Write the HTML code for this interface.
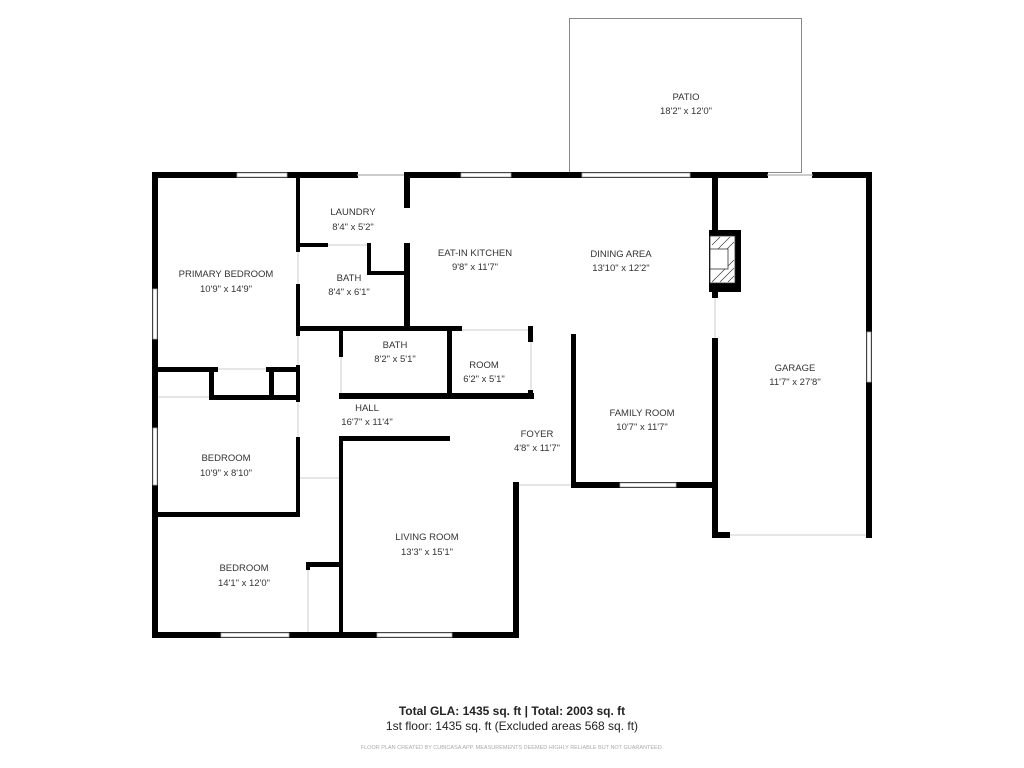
<!DOCTYPE html>
<html><head><meta charset="utf-8"><style>
html,body{margin:0;padding:0;background:#fff;}
svg{display:block}
text{font-family:"Liberation Sans",sans-serif;fill:#333;font-size:9.5px;text-anchor:middle}
.w{fill:#000}
.win{fill:#fff;stroke:#aaa;stroke-width:0.8}
.l{stroke:#ccc;stroke-width:1;fill:none}
</style></head><body>
<svg width="1024" height="768" viewBox="0 0 1024 768" xmlns="http://www.w3.org/2000/svg">
<!-- patio -->
<rect x="569.5" y="18.5" width="232" height="154" fill="none" stroke="#888" stroke-width="1"/>
<!-- outer walls -->
<rect class="w" x="152" y="172" width="206" height="6"/>
<rect class="w" x="404" y="172" width="364" height="6"/>
<rect class="l" x="358" y="174.5" width="46" height="1"/>
<rect class="w" x="812" y="172" width="60" height="6"/>
<rect class="l" x="768" y="174.5" width="44" height="1"/>
<rect class="w" x="866" y="172" width="6" height="366"/>
<rect class="w" x="152" y="172" width="6" height="466"/>
<rect class="w" x="152" y="632" width="367" height="6"/>
<rect class="w" x="513" y="482" width="6" height="156"/>
<line class="l" x1="519" y1="485" x2="571" y2="485"/>
<!-- family room -->
<rect class="w" x="571" y="334" width="5" height="154"/>
<rect class="w" x="571" y="482" width="147" height="6"/>
<!-- garage -->
<rect class="w" x="712" y="172" width="6" height="126"/>
<rect class="w" x="712" y="338" width="6" height="200"/>
<rect class="w" x="712" y="532" width="18" height="6"/>
<line class="l" x1="730" y1="535" x2="866" y2="535"/>
<line class="l" x1="715" y1="298" x2="715" y2="338"/>
<rect class="w" x="709" y="230" width="32" height="62"/>
<rect x="710" y="236" width="25" height="47" fill="#fff" stroke="#333" stroke-width="0.8"/>
<g stroke="#333" stroke-width="0.6">
<line x1="712" y1="245" x2="720" y2="237"/><line x1="712" y1="255" x2="730" y2="237"/>
<line x1="712" y1="282" x2="734" y2="260"/><line x1="720" y1="282" x2="734" y2="268"/><line x1="728" y1="282" x2="734" y2="276"/>
<line x1="726" y1="250" x2="734" y2="242"/>
</g>
<rect x="710" y="249" width="18" height="20" fill="#fff" stroke="#333" stroke-width="0.8"/>
<!-- laundry / bath column -->
<rect class="w" x="296" y="172" width="4" height="80"/>
<rect class="w" x="296" y="284" width="4" height="52"/>
<rect class="w" x="296" y="365" width="4" height="37"/>
<rect class="w" x="296" y="437" width="4" height="80"/>
<rect class="w" x="296" y="243" width="32" height="4"/>
<line class="l" x1="328" y1="245" x2="368" y2="245"/>
<rect class="w" x="367" y="243" width="4" height="32"/>
<rect class="w" x="367" y="271" width="40" height="4"/>
<rect class="w" x="404" y="172" width="6" height="36"/>
<rect class="w" x="404" y="243" width="6" height="88"/>
<rect class="w" x="296" y="326" width="166" height="5"/>
<!-- bath2 / room -->
<rect class="w" x="339" y="326" width="4" height="31"/>
<rect class="w" x="339" y="393" width="195" height="6"/>
<rect class="w" x="447" y="326" width="5" height="73"/>
<rect class="w" x="528" y="326" width="5" height="16"/>
<rect class="w" x="528" y="390" width="5" height="9"/>
<line class="l" x1="341" y1="357" x2="341" y2="393"/>
<line class="l" x1="531" y1="342" x2="531" y2="390"/>
<line class="l" x1="462" y1="330" x2="528" y2="330"/>
<!-- primary closet -->
<rect class="w" x="152" y="367" width="66" height="5"/>
<rect class="w" x="266" y="367" width="34" height="5"/>
<line class="l" x1="218" y1="369" x2="266" y2="369"/>
<rect class="w" x="209" y="367" width="5" height="33"/>
<rect class="w" x="269" y="367" width="5" height="33"/>
<rect class="w" x="209" y="395" width="91" height="5"/>
<line class="l" x1="158" y1="397" x2="209" y2="397"/>
<!-- bedroom -->
<rect class="w" x="152" y="512" width="148" height="5"/>
<line class="l" x1="300" y1="478" x2="339" y2="478"/>
<line class="l" x1="298" y1="252" x2="298" y2="284"/>
<line class="l" x1="298" y1="336" x2="298" y2="365"/>
<line class="l" x1="298" y1="402" x2="298" y2="437"/>
<!-- living -->
<rect class="w" x="339" y="436" width="111" height="5"/>
<rect class="w" x="339" y="436" width="4" height="202"/>
<rect class="w" x="306" y="562" width="37" height="5"/>
<rect class="w" x="306" y="562" width="4" height="8"/>
<line class="l" x1="308" y1="570" x2="308" y2="632"/>
<!-- windows -->
<rect class="win" x="237" y="173" width="50" height="4"/>
<rect class="win" x="461" y="173" width="50" height="4"/>
<rect class="win" x="582" y="173" width="108" height="4"/>
<rect class="win" x="153" y="289" width="4" height="50"/>
<rect class="win" x="153" y="428" width="4" height="57"/>
<rect class="win" x="867" y="332" width="4" height="50"/>
<rect class="win" x="221" y="633" width="68" height="4"/>
<rect class="win" x="377" y="633" width="75" height="4"/>
<rect class="win" x="620" y="483" width="56" height="4"/>
<!-- labels -->
<text x="686" y="100">PATIO</text><text x="686" y="114">18'2" x 12'0"</text>
<text x="353" y="215">LAUNDRY</text><text x="353" y="230">8'4" x 5'2"</text>
<text x="226" y="277">PRIMARY BEDROOM</text><text x="226" y="292">10'9" x 14'9"</text>
<text x="349" y="281">BATH</text><text x="349" y="295">8'4" x 6'1"</text>
<text x="475" y="256">EAT-IN KITCHEN</text><text x="475" y="270">9'8" x 11'7"</text>
<text x="621" y="257">DINING AREA</text><text x="621" y="271">13'10" x 12'2"</text>
<text x="395" y="348">BATH</text><text x="395" y="362">8'2" x 5'1"</text>
<text x="484" y="368">ROOM</text><text x="484" y="382">6'2" x 5'1"</text>
<text x="367" y="411">HALL</text><text x="367" y="425">16'7" x 11'4"</text>
<text x="537" y="437">FOYER</text><text x="537" y="451">4'8" x 11'7"</text>
<text x="642" y="416">FAMILY ROOM</text><text x="642" y="430">10'7" x 11'7"</text>
<text x="795" y="371">GARAGE</text><text x="795" y="385">11'7" x 27'8"</text>
<text x="226" y="461">BEDROOM</text><text x="226" y="476">10'9" x 8'10"</text>
<text x="244" y="571">BEDROOM</text><text x="244" y="586">14'1" x 12'0"</text>
<text x="427" y="540">LIVING ROOM</text><text x="427" y="555">13'3" x 15'1"</text>
<text x="512" y="715" style="font-size:12px;font-weight:bold;fill:#222">Total GLA: 1435 sq. ft | Total: 2003 sq. ft</text>
<text x="512" y="730" style="font-size:12px;fill:#222">1st floor: 1435 sq. ft (Excluded areas 568 sq. ft)</text>
<text x="512" y="749" style="font-size:5.5px;fill:#aaa">FLOOR PLAN CREATED BY CUBICASA APP. MEASUREMENTS DEEMED HIGHLY RELIABLE BUT NOT GUARANTEED.</text>
</svg>
</body></html>
